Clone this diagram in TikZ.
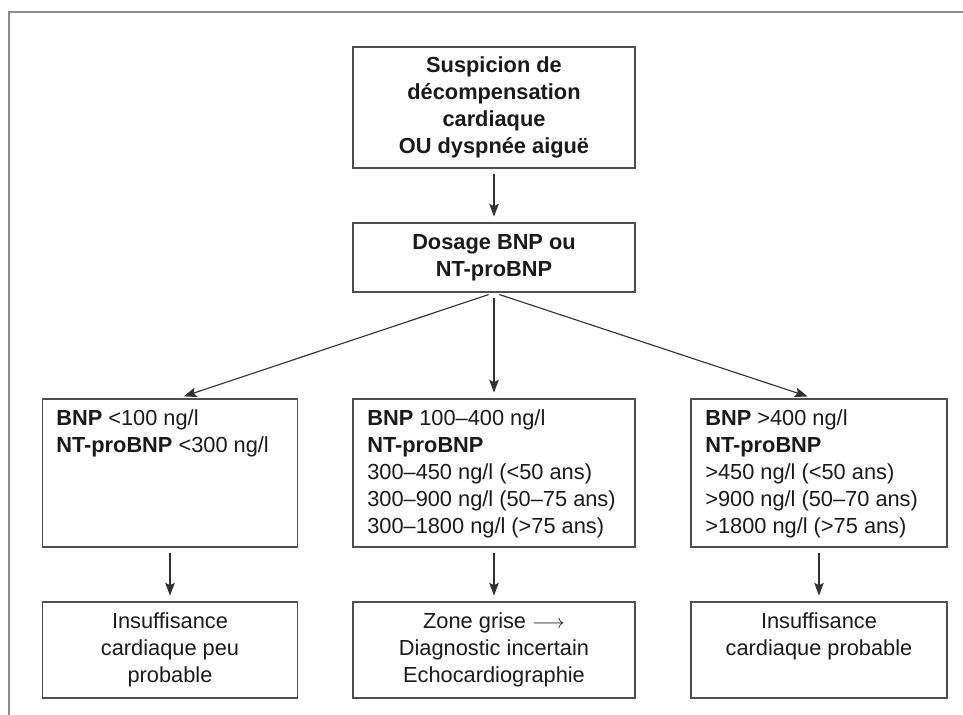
\documentclass[tikz,border=0pt]{standalone}
\usepackage{fontspec}
\setmainfont{Liberation Sans}
\usetikzlibrary{arrows.meta}

\definecolor{boxline}{HTML}{4E4E4E}
\definecolor{frameline}{HTML}{8C8C8C}
\definecolor{inktext}{HTML}{1A1A1A}

\begin{document}
\begin{tikzpicture}[x=0.025cm, y=-0.025cm,
        box/.style={draw=boxline, line width=1.1pt, inner sep=0pt},
        txt/.style={text=inktext, font=\fontsize{15.5}{19.2}\selectfont},
        boldtxt/.style={text=inktext, font=\fontsize{15.5}{19.2}\selectfont\bfseries},
        flow/.style={-{Stealth[length=3.2mm, width=2.4mm, inset=0.6mm]}, line width=0.8pt, draw=inktext!90, shorten <=4pt, shorten >=4pt}]

        \useasboundingbox (0, 0) rectangle (963, 715);

        % cadre
        \draw[frameline, line width=1.4pt] (963, 12) -- (9, 12) -- (9, 715);

        % haut
        \node[box, boldtxt, align=center, minimum width=7.05cm, minimum height=3.025cm] (susp) at (494, 107.5) {Suspicion de\\décompensation\\cardiaque\\OU dyspnée aiguë};

        \node[box, boldtxt, align=center, minimum width=7.05cm, minimum height=1.725cm] (dosage) at (494, 257.5) {Dosage BNP ou\\NT-proBNP};

        % seuils
        \node[box, minimum width=6.375cm, minimum height=3.7cm] (low) at (170, 473) {};
        \node[box, minimum width=7.05cm, minimum height=3.7cm] (mid) at (494, 473) {};
        \node[box, minimum width=6.4cm, minimum height=3.7cm] (high) at (819, 473) {};

        \node[txt, anchor=north west, align=left, inner sep=0pt] (lowtxt) at (56, 409) {\textbf{BNP} <100 ng/l\\\textbf{NT-proBNP} <300 ng/l};
        \node[txt, anchor=north west, align=left, inner sep=0pt] (midtxt) at (367, 409) {\textbf{BNP} 100–400 ng/l\\\textbf{NT-proBNP}\\300–450 ng/l (<50 ans)\\300–900 ng/l (50–75 ans)\\300–1800 ng/l (>75 ans)};
        \node[txt, anchor=north west, align=left, inner sep=0pt] (hightxt) at (705, 409) {\textbf{BNP} >400 ng/l\\\textbf{NT-proBNP}\\>450 ng/l (<50 ans)\\>900 ng/l (50–70 ans)\\>1800 ng/l (>75 ans)};

        % conclusions
        \node[box, txt, align=center, minimum width=6.375cm, minimum height=2.4cm] (lowres) at (170, 650) {Insuffisance\\cardiaque peu\\probable};
        \node[box, txt, align=center, minimum width=7.05cm, minimum height=2.4cm] (midres) at (494, 650) {Zone grise $\longrightarrow$\\Diagnostic incertain\\Echocardiographie};
        \node[box, txt, align=center, minimum width=6.4cm, minimum height=2.4cm] (highres) at (819, 650) {Insuffisance\\cardiaque probable\\\vphantom{probable}};

        % fleches
        \draw[flow] (susp) -- (dosage);
        \draw[flow] (dosage.south) -- ([xshift=0.21cm]low.north);
        \draw[flow] (dosage.south) -- (mid.north);
        \draw[flow] (dosage.south) -- ([xshift=-0.15cm]high.north);

        \foreach \a/\b in {low/lowres, mid/midres, high/highres} {
            \draw[flow] (\a) -- (\b);
        }

\end{tikzpicture}
\end{document}
